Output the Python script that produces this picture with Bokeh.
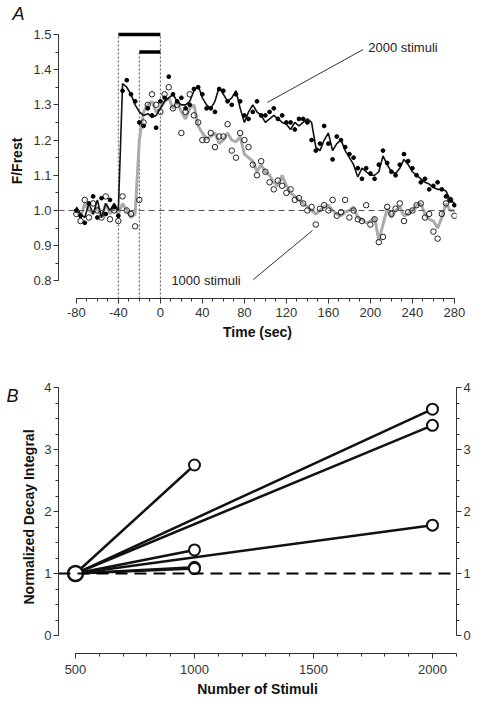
from bokeh.plotting import figure
from bokeh.layouts import column
from bokeh.models import (Range1d, LinearAxis, Span, SingleIntervalTicker, FixedTicker,
                          PrintfTickFormatter)
from bokeh.embed import file_html
from bokeh.resources import INLINE
from bokeh.core.properties import value

FONT = "Liberation Sans"

# ---------------- Panel A data ----------------
TIME = list(range(-80, 284, 4))  # sec

LINE_2000 = [1.01, 0.99, 0.98, 1.02, 0.99, 1.03, 0.98, 1.02, 1.00, 1.02,
             1.00, 1.36, 1.35, 1.33, 1.30, 1.28, 1.27, 1.275, 1.265, 1.27,
             1.29, 1.31, 1.32, 1.33, 1.31, 1.30, 1.30, 1.31, 1.34, 1.355,
             1.32, 1.30, 1.29, 1.31, 1.35, 1.33, 1.31, 1.32, 1.34, 1.29,
             1.25, 1.28, 1.30, 1.28, 1.27, 1.25, 1.26, 1.27, 1.26, 1.25,
             1.245, 1.23, 1.25, 1.24, 1.25, 1.26, 1.25, 1.18, 1.17, 1.20,
             1.22, 1.17, 1.19, 1.20, 1.17, 1.15, 1.13, 1.095, 1.12, 1.11,
             1.10, 1.10, 1.11, 1.155, 1.13, 1.11, 1.105, 1.12, 1.145, 1.13,
             1.11, 1.10, 1.09, 1.08, 1.075, 1.065, 1.06, 1.06, 1.055, 1.03,
             1.02]

PTS_2000 = [1.00, 0.985, 0.965, 1.02, 1.04, 0.98, 1.035, 0.99, 1.03, 1.01,
            0.985, 1.34, 1.37, 1.33, 1.31, 1.25, 1.24, 1.29, 1.27, 1.235,
            1.31, 1.32, 1.38, 1.33, 1.31, 1.32, 1.29, 1.30, 1.345, 1.35,
            1.33, 1.29, 1.29, 1.28, 1.345, 1.34, 1.31, 1.30, 1.33, 1.31,
            1.27, 1.26, 1.28, 1.31, 1.27, 1.27, 1.28, 1.29, 1.26, 1.27,
            1.25, 1.25, 1.23, 1.26, 1.26, 1.25, 1.20, 1.17, 1.19, 1.24,
            1.19, 1.145, 1.21, 1.20, 1.18, 1.16, 1.15, 1.12, 1.09, 1.12,
            1.105, 1.09, 1.13, 1.17, 1.135, 1.11, 1.10, 1.13, 1.16, 1.14,
            1.12, 1.10, 1.08, 1.09, 1.06, 1.07, 1.08, 1.06, 1.04, 1.03,
            1.015]

LINE_1000 = [1.00, 0.98, 1.02, 1.00, 0.99, 1.01, 0.98, 1.02, 0.99, 1.01,
             0.99, 1.02, 1.00, 0.98, 0.99, 1.20, 1.28, 1.30, 1.31, 1.28,
             1.29, 1.31, 1.32, 1.29, 1.31, 1.28, 1.26, 1.29, 1.30, 1.24,
             1.22, 1.205, 1.21, 1.22, 1.19, 1.20, 1.22, 1.20, 1.195, 1.21,
             1.16, 1.15, 1.14, 1.11, 1.13, 1.11, 1.10, 1.08, 1.07, 1.10,
             1.07, 1.05, 1.04, 1.03, 1.02, 1.01, 1.00, 0.99, 1.00, 1.01,
             1.015, 1.00, 0.99, 0.985, 0.995, 1.00, 1.01, 0.98, 0.975, 0.965,
             0.97, 0.98, 0.915, 0.96, 1.005, 0.98, 1.00, 1.01, 0.985, 0.99,
             1.00, 1.015, 1.02, 0.99, 0.975, 0.97, 0.95, 0.98, 1.02, 1.00,
             1.00]

PTS_1000 = [0.99, 0.97, 1.03, 0.98, 1.02, 1.00, 0.98, 1.04, 0.975, 1.00,
            0.97, 1.04, 1.00, 0.99, 0.955, 1.03, 1.25, 1.30, 1.33, 1.30,
            1.28, 1.33, 1.35, 1.29, 1.30, 1.22, 1.28, 1.33, 1.27, 1.25,
            1.20, 1.20, 1.22, 1.18, 1.21, 1.21, 1.245, 1.17, 1.15, 1.22,
            1.20, 1.18, 1.13, 1.10, 1.14, 1.11, 1.08, 1.06, 1.085, 1.07,
            1.05, 1.06, 1.03, 1.035, 1.02, 1.00, 1.01, 0.96, 1.005, 1.015,
            1.00, 1.03, 0.985, 0.995, 1.03, 0.98, 1.00, 0.975, 0.97, 1.015,
            0.96, 0.975, 0.91, 0.925, 1.01, 0.99, 1.005, 1.02, 0.97, 0.995,
            1.00, 1.015, 1.02, 0.98, 0.99, 0.94, 0.92, 0.99, 1.02, 1.03,
            0.985]

STIM_STARTS = [-40, -20]       # start of 2000 / 1000 stimulus trains
STIM_END = 0
BAR_LEVELS = [1.5, 1.45]
BASELINE = 1.0

# ---------------- Panel B data ----------------
N_FROM = [500, 500, 500, 500, 500, 500, 500]
N_TO = [1000, 2000, 2000, 1000, 2000, 1000, 1000]
NDI_TO = [2.75, 3.65, 3.39, 1.38, 1.78, 1.10, 1.08]
NDI_FROM = [1, 1, 1, 1, 1, 1, 1]


def style_axis(ax, label_size="13px", standoff=2):
    ax.axis_line_color = "#333333"
    ax.axis_line_width = 1
    ax.major_tick_line_color = "#333333"
    ax.minor_tick_line_color = "#333333"
    ax.major_tick_in = 0
    ax.major_tick_out = 5
    ax.minor_tick_in = 0
    ax.minor_tick_out = 3
    ax.major_label_standoff = standoff
    ax.major_label_text_font = FONT
    ax.major_label_text_font_size = label_size
    ax.major_label_text_color = "#333333"
    ax.axis_label_text_font = FONT
    ax.axis_label_text_font_style = "bold"
    ax.axis_label_text_font_size = "14px"
    ax.axis_label_text_color = "#111111"


def panel_letter_axis(ax):
    ax.axis_line_color = None
    ax.major_tick_line_color = None
    ax.minor_tick_line_color = None
    ax.major_tick_out = 0
    ax.major_tick_in = 0
    ax.minor_tick_out = 0
    ax.minor_tick_in = 0
    ax.major_label_standoff = 0
    ax.major_label_text_font = FONT
    ax.major_label_text_font_style = "italic"
    ax.major_label_text_font_size = "18px"
    ax.major_label_text_color = "#111111"


# ---------------- Panel A ----------------
p1 = figure(width=488, height=350, x_range=Range1d(-97, 282), y_range=Range1d(0.75, 1.531),
            output_backend="svg", toolbar_location=None,
            min_border_left=58, min_border_right=32, min_border_top=23, min_border_bottom=52)
p1.outline_line_color = None
p1.xgrid.grid_line_color = None
p1.ygrid.grid_line_color = None

p1.title.text = "A"
p1.title.align = "left"
p1.title.offset = -46
p1.title.standoff = 0
p1.title.text_font = FONT
p1.title.text_font_style = "italic"
p1.title.text_font_size = "18px"
p1.title.text_color = "#111111"

p1.xaxis.ticker = SingleIntervalTicker(interval=40, num_minor_ticks=4)
p1.xaxis.bounds = (-80, 280)
p1.xaxis.formatter = PrintfTickFormatter(format="%d")
p1.xaxis.axis_label = "Time (sec)"
p1.xaxis.axis_label_standoff = 4
p1.yaxis.ticker = SingleIntervalTicker(interval=0.1, num_minor_ticks=2)
p1.yaxis.bounds = (0.8, 1.5)
p1.yaxis.formatter = PrintfTickFormatter(format="%.1f")
p1.yaxis.axis_label = "F/Frest"
p1.yaxis.axis_label_standoff = 5
style_axis(p1.xaxis[0], standoff=4)
style_axis(p1.yaxis[0])

p1.add_layout(Span(location=BASELINE, dimension="width", line_color="#555555",
                   line_width=1, line_dash="6 4"))

# stimulus period markers
p1.segment(x0=STIM_STARTS + [STIM_END], y0=[0.75, 0.75, 0.75],
           x1=STIM_STARTS + [STIM_END], y1=[BAR_LEVELS[0], BAR_LEVELS[1], BAR_LEVELS[0]],
           line_color="#555555", line_width=1, line_dash="2 2")
p1.segment(x0=STIM_STARTS, y0=BAR_LEVELS, x1=[STIM_END, STIM_END], y1=BAR_LEVELS,
           line_color="black", line_width=3.5)

p1.line(TIME, LINE_1000, line_color="#ababab", line_width=3)
p1.scatter(TIME, PTS_1000, size=5.5, fill_color=None, line_color="#222222", line_width=1)
p1.line(TIME, LINE_2000, line_color="#111111", line_width=1.6)
p1.scatter(TIME, PTS_2000, size=3.8, fill_color="black", line_color="black")

# annotations
p1.segment(x0=[102, 88.6], y0=[1.307, 0.804], x1=[193, 144.8], y1=[1.457, 0.943],
           line_color="#333333", line_width=1)
p1.text(x=[198, 10.5], y=[1.463, 0.80], text=["2000 stimuli", "1000 stimuli"],
        text_font=value(FONT), text_font_size="13px", text_color="#222222",
        text_baseline="middle", text_align="left")

# ---------------- Panel B ----------------
p2 = figure(width=488, height=354, x_range=Range1d(428.6, 2101), y_range=Range1d(-0.29, 4.113),
            output_backend="svg", toolbar_location=None,
            min_border_left=58, min_border_right=32, min_border_top=30, min_border_bottom=51)
p2.outline_line_color = None
p2.xgrid.grid_line_color = None
p2.ygrid.grid_line_color = None

p2.xaxis.ticker = SingleIntervalTicker(interval=500, num_minor_ticks=5)
p2.xaxis.bounds = (500, 2100)
p2.xaxis.axis_label = "Number of Stimuli"
p2.xaxis.axis_label_standoff = 4
p2.yaxis.ticker = SingleIntervalTicker(interval=1, num_minor_ticks=4)
p2.yaxis.bounds = (0, 4)
p2.yaxis.axis_label = "Normalized Decay Integral"
p2.yaxis.axis_label_standoff = 4
style_axis(p2.xaxis[0], standoff=6)
style_axis(p2.yaxis[0])

rax = LinearAxis(ticker=SingleIntervalTicker(interval=1, num_minor_ticks=4), bounds=(0, 4))
style_axis(rax)
p2.add_layout(rax, "right")

# panel letter "B" drawn as the only label of an outer left axis
letter_axis = LinearAxis(ticker=FixedTicker(ticks=[3.87], minor_ticks=[]),
                         major_label_overrides={3.87: "B"})
panel_letter_axis(letter_axis)
p2.add_layout(letter_axis, "left")

p2.add_layout(Span(location=1, dimension="width", line_color="black",
                   line_width=2, line_dash="12 7"))

p2.segment(x0=N_FROM, y0=NDI_FROM, x1=N_TO, y1=NDI_TO, line_color="#111111", line_width=2.5)
p2.scatter(N_TO, NDI_TO, size=11, fill_color="white", line_color="#111111", line_width=2)
p2.scatter(N_FROM[:1], NDI_FROM[:1], size=15, fill_color="white", line_color="#111111", line_width=2.5)

layout = column(p1, p2, spacing=0)
open("out.html", "w").write(file_html(layout, INLINE))
